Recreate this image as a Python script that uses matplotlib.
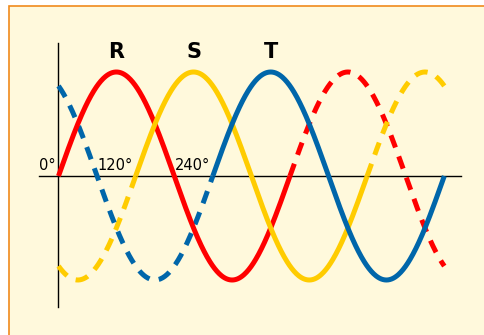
import numpy as np
import matplotlib
matplotlib.use("Agg")
import matplotlib.pyplot as plt
from matplotlib.patches import Rectangle

# three-phase waves: name, phase shift (deg), solid span (deg)
phases = ["R", "S", "T"]
shifts = [0, 120, 240]
solid_from = [0, 120, 240]
solid_to = [360, 480, 600]
colors = ["#ff0000", "#ffcc00", "#0066aa"]
label_pos = [90, 210, 330]
angle_ticks = [0, 120, 240]
angle_labels = ["0°", "120°", "240°"]
end_deg = 600

fig = plt.figure(figsize=(4.85, 3.35), dpi=100)
fig.patch.set_facecolor("white")

ax = fig.add_axes([0, 0, 1, 1])
ax.set_axis_off()
ax.patch.set_alpha(0)
px = 0.643  # pixels per degree
ax.set_xlim(-58.5 / px, (485 - 58.5) / px)
ax.set_ylim(-(335 - 176) / 104, 176 / 104)

# yellow panel with orange border
ax.add_patch(Rectangle((9.5 / 485, -0.01), 1.0, (335 - 6) / 335 + 0.01,
                       transform=fig.transFigure, facecolor="#fff9dc",
                       edgecolor="#f08a1c", linewidth=1.2, zorder=0, clip_on=False))

# axes lines
ax.plot([0, 0], [(176 - 43) / 104, -(307 - 176) / 104], color="black", lw=1.0, zorder=1)
ax.plot([-20 / px, (461 - 58.5) / px], [0, 0], color="black", lw=1.0, zorder=1)

for name, sh, a, b, c, lp in zip(phases, shifts, solid_from, solid_to, colors, label_pos):
    t = np.linspace(a, b, 400)
    ax.plot(t, np.sin(np.radians(t - sh)), color=c, lw=3.6, solid_capstyle="butt", zorder=3)
    for lo, hi in [(0, a), (b, end_deg)]:
        if hi > lo:
            t = np.linspace(lo, hi, 300)
            ax.plot(t, np.sin(np.radians(t - sh)), color=c, lw=3.6,
                    linestyle=(0, (2.6, 1.9)), dash_capstyle="butt", zorder=2)
    ax.text(lp, (176 - 52) / 104, name, ha="center", va="center",
            fontsize=15, fontweight="heavy", color="black")

for d, s in zip(angle_ticks, angle_labels):
    ax.text(d - 4, 0.03, s, ha="right", va="bottom",
            fontsize=10.5, color="black", zorder=4)

fig.savefig("out.png", dpi=100)
